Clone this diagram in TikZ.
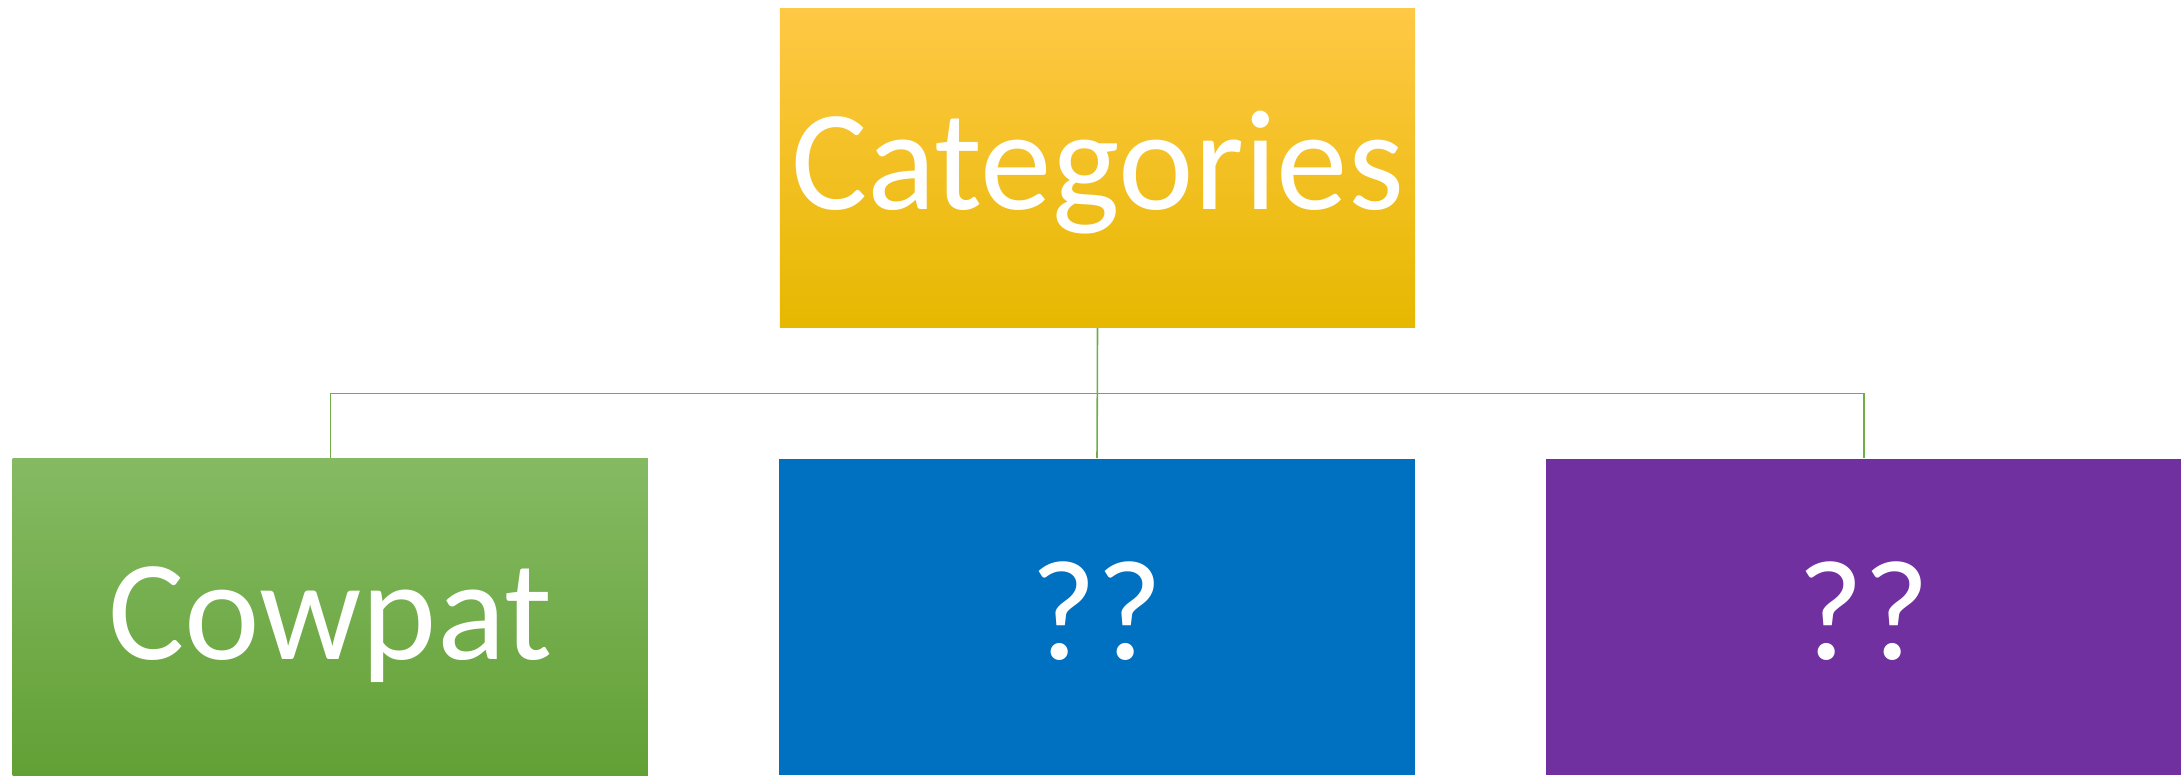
\documentclass[tikz,border=0pt]{standalone}
\usepackage{fontspec}
\setmainfont{Carlito}
\definecolor{lnG}{HTML}{70AD47}
\definecolor{yTop}{HTML}{FFC845}
\definecolor{yMid}{HTML}{FFC400}
\definecolor{yBot}{HTML}{E6B800}
\definecolor{gTop}{HTML}{85BA63}
\definecolor{gMid}{HTML}{70AD47}
\definecolor{gBot}{HTML}{62A035}
\definecolor{bBox}{HTML}{0070C0}
\definecolor{pBox}{HTML}{7030A0}
\newcommand{\basetxt}[2]{\raisebox{#1}[0pt][0pt]{#2}}
\tikzset{
  box/.style={rectangle, inner sep=0pt, minimum width=6.35cm, text=white,
    font=\fontsize{40.7}{48}\selectfont},
  conn/.style={draw=lnG, line width=0.45pt},
}
\begin{document}
\begin{tikzpicture}[x=0.01cm,y=-0.01cm]
\useasboundingbox (0,0) rectangle (2181,775);
\begin{scope}
\clip (0,0) rectangle (2181,775);
\node[box, minimum height=3.18cm, top color=yTop, middle color=yMid, bottom color=yBot] (top) at (1097.5,168) {\basetxt{-0.41cm}{Categories}};
\node[box, minimum height=3.16cm, top color=gTop, middle color=gMid, bottom color=gBot] (green) at (330.3,617) {\basetxt{-0.42cm}{Cowpat}};
\node[box, minimum height=3.16cm, fill=bBox] (blue) at (1097,617) {\basetxt{-0.42cm}{??}};
\node[box, minimum height=3.16cm, fill=pBox] (purple) at (1864,617) {\basetxt{-0.42cm}{??}};
\coordinate (j) at (1097.3,393.5);
\draw[conn] (top.south) -- (j);
\draw[conn] (green.north) -- (green.north |- j) -- (purple.north |- j) -- (purple.north);
\draw[conn] (j) -- (blue.north);
\end{scope}
\end{tikzpicture}
\end{document}
